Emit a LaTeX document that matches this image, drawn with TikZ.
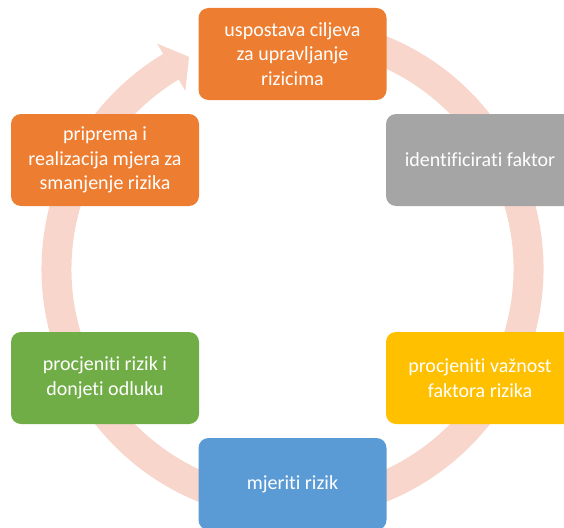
\documentclass[tikz,border=0pt]{standalone}
\usepackage{fontspec}
\setmainfont{Carlito}[Ligatures={NoCommon,NoRequired,NoContextual}]
\usetikzlibrary{calc}
\definecolor{ringc}{HTML}{F8D6CC}
\definecolor{orangec}{HTML}{ED7D31}
\definecolor{grayc}{HTML}{A5A5A5}
\definecolor{yellowc}{HTML}{FFC000}
\definecolor{bluec}{HTML}{5B9BD5}
\definecolor{greenc}{HTML}{70AD47}
\begin{document}
\begin{tikzpicture}[x=1pt,y=1pt,
  box/.style={rounded corners=10pt, minimum width=188pt, minimum height=92pt,
    text=white, align=center, font=\fontsize{20}{24.5}\selectfont, inner sep=0pt}]
\path[use as bounding box] (0,0) rectangle (564,-527);
\clip (0,0) rectangle (564,-527);
\coordinate (C) at (292.5,-269);
\draw[ringc, line width=30pt] ($(C)+(80:236)$) arc[start angle=80, end angle=-239, radius=236];
\fill[ringc] ($(C)+(121:208)$) -- ($(C)+(116:236)$) -- ($(C)+(121:263)$) -- cycle;
\node[box, fill=orangec] (n1) at (292.5,-54) {uspostava ciljeva\\za upravljanje\\rizicima};
\node[box, fill=grayc] (n2) at (480,-160) {identificirati faktor};
\node[box, fill=yellowc] (n3) at (480,-378) {procjeniti važnost\\faktora rizika};
\node[box, fill=bluec] (n4) at (292.5,-484) {mjeriti rizik};
\node[box, fill=greenc] (n5) at (105,-378) {procjeniti rizik i\\donjeti odluku};
\node[box, fill=orangec] (n6) at (105,-160) {priprema i\\realizacija mjera za\\smanjenje rizika};
\end{tikzpicture}
\end{document}
